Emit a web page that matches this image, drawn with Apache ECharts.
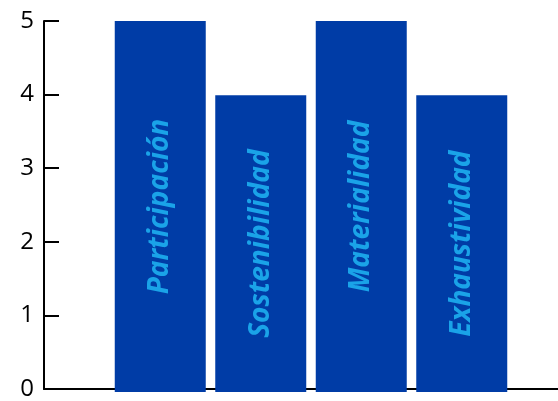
<!DOCTYPE html>
<html><head><meta charset="utf-8">
<script src="https://cdn.jsdelivr.net/npm/echarts@6/dist/echarts.min.js"></script>
<style>html,body{margin:0;padding:0;background:#fff}#c{width:558px;height:401px}</style>
</head><body><div id="c"></div>
<script>
var categories = ['Participación','Sostenibilidad','Materialidad','Exhaustividad'];
var values = [5,4,5,4];
var yTicks = [0,1,2,3,4,5];

var chart = echarts.init(document.getElementById('c'));
chart.setOption({
  animation:false,
  grid:[
    {left:44,right:0,top:21,bottom:9},
    {left:110,right:46,top:21,bottom:9}
  ],
  xAxis:[
    {gridIndex:0,type:'value',min:0,max:1,axisLine:{show:true,lineStyle:{color:'#000',width:2}},axisTick:{show:false},axisLabel:{show:false},splitLine:{show:false}},
    {gridIndex:1,type:'category',data:categories,axisLine:{show:false},axisTick:{show:false},axisLabel:{show:false}}
  ],
  yAxis:[
    {gridIndex:0,type:'value',min:yTicks[0],max:yTicks[yTicks.length-1],interval:1,
     axisLine:{show:true,lineStyle:{color:'#000',width:2}},
     axisTick:{show:true,inside:true,length:15,lineStyle:{color:'#000',width:2}},
     axisLabel:{color:'#000',fontSize:24,fontFamily:'Open Sans',margin:10},
     splitLine:{show:false}},
    {gridIndex:1,type:'value',min:0,max:5,show:false}
  ],
  series:[{
    type:'bar',xAxisIndex:1,yAxisIndex:1,data:values,barWidth:91,
    itemStyle:{color:'#003ca6'},
    label:{show:true,position:'inside',rotate:90,formatter:function(p){return p.name;},
      color:'#1aa3e8',fontSize:28,fontWeight:'bold',fontStyle:'italic',fontFamily:'Open Sans'}
  }]
});
</script></body></html>
